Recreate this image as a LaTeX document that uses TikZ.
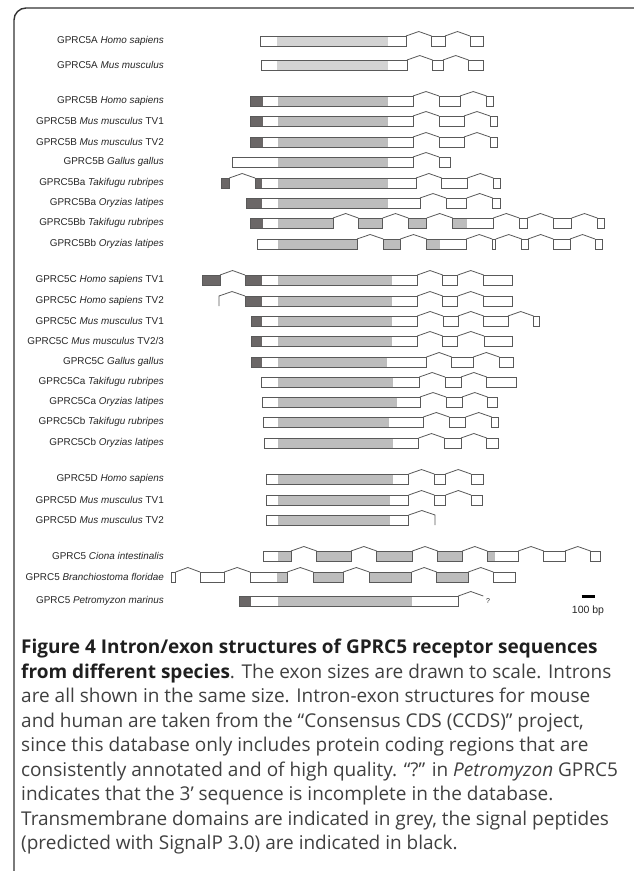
\documentclass[tikz,border=0pt]{standalone}
\usepackage{fontspec}
\setmainfont{Open Sans}
\newfontfamily\labelfont{Liberation Sans}

\definecolor{spdark}{HTML}{6B6767}
\definecolor{tmgrey}{HTML}{BDBDBD}
\definecolor{tmlight}{HTML}{D3D3D3}

% one gene: [grey style]{name}{y}{label}{exons}{grey parts}{signal parts}
\newcommand{\generow}[7][tm]{%
  \node[lbl] (#2) at (164,#3) {#4};
  \foreach \a/\b in {#6} \fill[#1] (\a,#3-5) rectangle (\b,#3+5);
  \if\relax\detokenize{#7}\relax\else
    \foreach \a/\b in {#7} \fill[sp] (\a,#3-5) rectangle (\b,#3+5);
  \fi
  \foreach \a/\b [remember=\b as \prevx (initially 0)] in {#5}{%
    \draw[exon] (\a,#3-5) rectangle (\b,#3+5);
    \ifdim\prevx pt>0pt
      \draw[intron] (\prevx,#3-5) -- ({(\prevx+\a)/2},#3-9.5) -- (\a,#3-5);
    \fi}%
}

\begin{document}
\begin{tikzpicture}[x=1pt, y=-1pt,
        lbl/.style={anchor=east, inner sep=0pt, text=black!85, font=\labelfont\fontsize{9.9}{11}\selectfont},
        exon/.style={draw=black!65, line width=0.9pt},
        intron/.style={draw=black!65, line width=0.8pt},
        tm/.style={fill=tmgrey},
        tmA/.style={fill=tmlight},
        sp/.style={fill=spdark},
        frame/.style={draw=black!80, line width=1.4pt, rounded corners=12pt},
        scalebar/.style={draw=black, line width=2.2pt},
        capline/.style={anchor=base west, inner sep=0pt, text=black!75, font=\fontsize{19}{22}\selectfont}
    ]
    \useasboundingbox (0,0) rectangle (633,871);
    \draw[frame] (14,880) |- (645,8);

    % GPRC5A
    \generow[tmA]{a1}{41}{GPRC5A \textit{Homo sapiens}}{260/406, 431.5/445, 470/483}{277/388}{}
    \generow[tmA]{a2}{65}{GPRC5A \textit{Mus musculus}}{261/407, 432.5/443, 468.5/483}{277/388}{}

    % GPRC5B
    \generow{b1}{101}{GPRC5B \textit{Homo sapiens}}{250/413, 439/460, 486.5/493.3}{277.7/388.3}{250/263.3}
    \generow{b2}{121}{GPRC5B \textit{Mus musculus} TV1}{250/413, 439/464, 490/497.3}{277.7/388.3}{250/263.3}
    \generow{b3}{142}{GPRC5B \textit{Mus musculus} TV2}{250/413, 439/464, 490/497.3}{277.7/388.3}{250/263.3}
    \generow{b4}{162}{GPRC5B \textit{Gallus gallus}}{232.3/413, 439/450}{277.7/388.3}{}
    \generow{b5}{183}{GPRC5Ba \textit{Takifugu rubripes}}{221.7/229.3, 255/416, 441.7/467.3, 493.3/500.7}{277.7/388.3}{221.7/229.3, 255/261.7}
    \generow{b6}{203}{GPRC5Ba \textit{Oryzias latipes}}{246.7/420, 446/466.7, 492.7/500}{277.7/388.3}{246.7/261.7}
    \generow{b7}{223}{GPRC5Bb \textit{Takifugu rubripes}}{250/333, 358.3/382.7, 408.3/426.7, 452.7/493.3, 519.3/527.5, 553.3/571.7, 597.3/604.3}{277.7/333, 358.3/382.7, 408.3/426.7, 452.7/467.3}{250/263.3}
    \generow{b8}{244}{GPRC5Bb \textit{Oryzias latipes}}{257.3/357, 383.3/400.3, 426.7/466.3, 492.2/495.8, 521.7/528, 553.3/570, 595/602.7}{277.7/357, 383.3/400.3, 426.7/439.7}{}

    % GPRC5C
    \generow{c1}{280}{GPRC5C \textit{Homo sapiens} TV1}{202.7/220, 245/417.3, 442.7/457.8, 483.7/512.5}{277.7/392}{202.7/220, 245/261.7}
    \generow{c2}{301}{GPRC5C \textit{Homo sapiens} TV2}{245/417.3, 442.7/457.8, 483.7/512.5}{277.7/392}{245/261.7}
    \draw[intron] (219,306) -- (219,296) -- (232,291.5) -- (245,296);
    \generow{c3}{321}{GPRC5C \textit{Mus musculus} TV1}{251/417.3, 443/458, 483.7/508, 533.5/539.3}{277.7/392}{251/261.7}
    \generow{c4}{341}{GPRC5C \textit{Mus musculus} TV2/3}{251/417.3, 442.7/457.7, 484/512.3}{277.7/392}{251/261.7}
    \generow{c5}{362}{GPRC5C \textit{Gallus gallus}}{251.7/426.5, 451.7/473.3, 499.3/513.7}{277.7/387.3}{251.7/261.7}
    \generow{c6}{382}{GPRC5Ca \textit{Takifugu rubripes}}{261/419.3, 445/461, 486.7/516}{277.7/393.3}{}
    \generow{c7}{402}{GPRC5Ca \textit{Oryzias latipes}}{262.3/420, 446/462, 487.5/497.3}{277.7/396.5}{}
    \generow{c8}{422}{GPRC5Cb \textit{Takifugu rubripes}}{263.7/423.3, 449.3/465.7, 491.7/498.3}{277.7/389.3}{}
    \generow{c9}{443}{GPRC5Cb \textit{Oryzias latipes}}{264.7/418.7, 444.3/461, 486.7/498.3}{277.7/393.3}{}

    % GPRC5D
    \generow{d1}{479}{GPRC5D \textit{Homo sapiens}}{266.3/408.7, 434.3/445.5, 471/483.3}{277.7/393}{}
    \generow{d2}{500}{GPRC5D \textit{Mus musculus} TV1}{266.3/408.7, 434.3/445.7, 471/482.7}{277.7/390}{}
    \generow{d3}{520}{GPRC5D \textit{Mus musculus} TV2}{266.3/408.7}{277.7/390}{}
    \draw[intron] (408.7,515) -- (421.8,510.5) -- (435,515) -- (435,525);

    % other species
    \generow{o1}{556}{GPRC5 \textit{Ciona intestinalis}}{263.3/291, 316.7/351, 376.7/412.3, 437.7/462.3, 487.3/518.3, 543.8/565, 590.5/600}{277.7/291, 316.7/351, 376.7/412.3, 437.7/462.3, 487.3/495}{}
    \generow{o2}{577}{GPRC5 \textit{Branchiostoma floridae}}{171.7/175.7, 200/224.3, 250/287.3, 313.3/343.3, 369.3/411.7, 436.7/468.3, 493.3/515.7}{277.3/287.3, 313.3/343.3, 369.3/411.7, 436.7/468.3}{}
    \generow{o3}{601}{GPRC5 \textit{Petromyzon marinus}}{239.3/458.3}{277.7/411.7}{239.3/251}
    \node[lbl, anchor=center, font=\labelfont\fontsize{7}{8}\selectfont] (qmark) at (488,601) {?};
    \draw[intron] (458.3,596) -- (470.8,591.5) -- (483.3,596);

    % scale
    \coordinate (barL) at (581.7,596.5);
    \coordinate (barR) at (595,596.5);
    \draw[scalebar] (barL) -- (barR);
    \node[lbl, anchor=base, font=\labelfont\fontsize{10.5}{12}\selectfont] (bp) at (588,613) {100 bp};

    % caption
    \node[capline] (cap1) at (21,653.5) {\textbf{\color{black!88}Figure 4 Intron/exon structures of GPRC5 receptor sequences}};
    \node[capline] (cap2) at (21,678) {\textbf{\color{black!88}from different species}. The exon sizes are drawn to scale. Introns};
    \node[capline] (cap3) at (21,702.5) {are all shown in the same size. Intron-exon structures for mouse};
    \node[capline] (cap4) at (21,727) {and human are taken from the “Consensus CDS (CCDS)” project,};
    \node[capline] (cap5) at (21,751.5) {since this database only includes protein coding regions that are};
    \node[capline] (cap6) at (21,776) {consistently annotated and of high quality. “?” in \textit{Petromyzon} GPRC5};
    \node[capline] (cap7) at (21,800.5) {indicates that the 3’ sequence is incomplete in the database.};
    \node[capline] (cap8) at (21,825) {Transmembrane domains are indicated in grey, the signal peptides};
    \node[capline] (cap9) at (21,849.5) {(predicted with SignalP 3.0) are indicated in black.};
\end{tikzpicture}
\end{document}
